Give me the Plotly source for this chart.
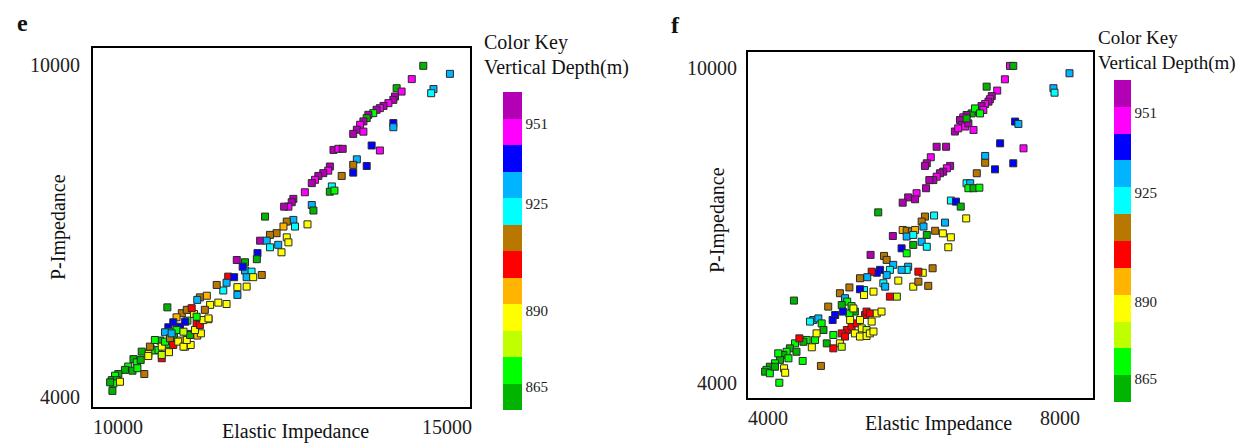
import plotly.graph_objects as go

W, H = 1254, 448
OX, OY = 8, 8          # page body margin of the browser
FW, FH = W - OX, H - OY

# ---------------- data ----------------
# Panel e
ei_e = [14640,15045,14465,14795,14760,14235,14310,14210,14185,14110,14035,13980,13930,13880,13805,13780,13730,13680,13630,13575,
        13730,14185,14185,13855,13980,13275,13350,13415,13630,13575,13780,13575,13400,13220,13195,13120,13045,12995,12945,12840,
        12665,12640,12590,12525,13250,13220,13290,12945,12970,12235,12880,12665,12690,12565,12515,12410,12310,12160,12260,12310,
        12435,12565,12590,12485,12120,12110,11805,11930,11930,12030,11955,11895,12185,12055,11955,11815,11675,11650,11600,11815,
        11765,11500,10750,11245,11350,11400,11525,11650,11205,11095,10970,10890,10840,10765,10790,10940,11055,11155,11245,11375,
        11055,11205,10640,10740,10850,10715,10940,11020,11105,11260,11195,10495,10560,10460,10775,10665,10485,10235,10285,10345,
        10155,10105,10220,10295,10005,9955,9905,9980,9930,10030,9880,9915,10400,10360,10460,10615,10665,10715,10790,10840,
        10915,10995,11045,11095,11170,11245,11295,11375,10940,11020,10890,10815,11045,11120,11195,11320,10995,10665,10560]
pi_e = [9985,9840,9745,9565,9490,9580,9520,9430,9370,9310,9260,9220,9190,9130,9100,9040,8980,8920,8830,8755,
        8795,8950,8875,8545,8455,8465,8485,8485,8295,8195,8175,8055,7995,8165,8090,8045,7995,7925,7865,7700,
        7580,7520,7440,7440,7805,7710,7730,7470,7370,7260,7120,7200,7080,7170,7080,6960,6930,6825,6825,6705,
        6750,6885,6795,6615,6600,6490,6475,6435,6285,6265,6165,6355,6205,6165,5995,5985,6175,6065,5925,5845,
        6165,6025,5620,5800,5830,5665,5705,5680,5755,5575,5515,5440,5350,5260,5180,5225,5380,5500,5380,5405,
        5140,5110,5020,4960,5080,5170,5020,4910,4940,5150,5320,4880,4840,4775,4810,4700,4910,4685,4625,4670,
        4550,4490,4475,4520,4415,4385,4305,4305,4245,4275,4265,4110,4415,4820,4740,4850,4910,5000,5060,4940,
        5000,4910,5030,5120,5210,5300,5390,5420,5270,5360,5210,5150,5575,5605,5450,5575,5180,4760,5030]
depth_e = [860,930,947,930,921,860,947,956,956,947,956,947,956,869,956,860,956,947,956,956,
           947,938,930,938,947,956,947,956,930,912,938,938,912,956,947,956,956,947,956,947,
           956,956,947,956,921,860,869,930,860,860,886,930,921,912,895,912,912,956,930,921,
           930,886,886,886,938,860,956,860,930,921,930,938,912,886,886,886,904,930,921,930,
           938,912,860,912,895,886,886,886,930,904,912,895,938,938,869,860,869,886,886,886,
           895,895,860,869,860,930,886,886,886,886,904,860,869,886,886,904,912,860,869,860,
           869,860,860,869,860,869,860,860,869,886,860,860,912,860,886,869,886,869,912,904,
           886,886,886,860,886,904,886,886,938,938,869,930,912,904,869,912,878,878,869]

# Panel f
ei_f = [7315,7360,8130,7910,7925,7245,6995,7140,7065,7040,7020,6975,6925,6950,6835,6790,6720,6675,6630,6655,
        6700,6745,6815,6560,6605,6835,6720,6905,7385,7430,7180,7500,6975,6975,7110,7360,6860,6720,6770,6745,
        6815,6895,6310,6440,6230,6175,6150,6495,6450,6400,6355,6310,6265,6210,6165,6035,5920,6015,5845,6505,
        6575,6640,5510,6715,6275,6425,6150,6105,5845,5900,5970,6015,5900,5990,6130,6105,6175,5990,6175,6290,
        6395,6505,6470,5830,5900,5710,5405,5590,5625,5715,5670,5625,5580,5605,5920,5900,5830,5535,5490,5420,
        5260,5360,5315,5260,5115,4985,5055,5085,5010,5145,5190,5115,5025,4920,4885,4825,4620,4575,4690,4735,
        4760,4645,4805,4895,4665,4985,5010,4895,5080,5145,5215,5330,5350,5395,5010,5055,5260,5285,5350,5420,
        5490,5555,5190,5260,5350,5395,5445,5125,5170,5445,5315,5765,5670,5785,5990,6060,6120,6060,6195,6255,
        4355,4530,4485,4370,4300,4255,4210,4280,4165,4095,4025,3980,3960,4025,4095,4140,4390,4220,4235,4600,
        4430,4475,4725,4155]
pi_f = [10040,10040,9900,9615,9530,9785,9645,9570,9465,9405,9360,9315,9275,9200,9170,9135,9105,9060,9010,8915,
        8885,8945,8820,8790,8850,9230,9040,9135,8980,8935,8565,8470,8325,8195,8070,8185,7995,7805,7805,7710,
        7710,7720,8500,8500,8300,8185,8135,8135,8090,8025,7995,7930,7865,7865,7710,7615,7535,7500,7435,7475,
        7455,7360,7250,7135,7190,7055,7170,7075,6915,6900,6885,6915,6790,6820,6980,6690,6595,6630,6820,6900,
        6850,6775,6585,6565,6470,6800,6440,6420,6345,6250,6155,6055,5900,5835,6215,6155,6155,6155,6100,6120,
        5995,6015,5770,5785,5820,5710,5615,5550,5485,5465,5360,5325,5360,5295,5200,5455,5200,5170,5230,5135,
        5010,4820,4755,4915,4945,4755,4690,4660,5010,5075,5135,5295,5360,5325,4945,4885,5200,5040,5010,5170,
        5325,5360,4945,4885,4895,4945,4980,5200,5420,5740,5675,5645,5645,5950,5835,5930,6100,6120,5850,6185,
        5570,4820,4785,4755,4660,4595,4535,4470,4440,4375,4310,4250,4215,4185,4310,4565,4595,4280,4195,4680,
        4850,4420,4325,4005]
depth_f = [947,860,930,930,921,947,860,947,956,947,956,947,956,947,956,860,956,947,956,956,
           947,956,947,956,947,869,860,869,938,930,938,947,930,912,938,938,912,921,930,869,
           860,869,956,956,947,956,956,956,947,956,956,947,956,956,956,947,956,956,956,921,
           938,860,860,886,921,930,912,912,895,912,912,895,930,921,930,930,921,860,860,912,
           886,886,886,938,869,956,956,912,912,930,921,930,921,930,930,921,930,938,938,904,
           912,930,921,938,912,912,930,869,860,869,860,869,938,938,938,912,930,921,930,869,
           860,869,860,869,886,886,878,904,904,904,904,904,904,904,904,904,886,886,878,886,
           886,886,886,886,886,886,886,886,886,886,886,878,904,886,886,912,886,904,912,912,
           860,869,860,869,860,869,860,869,860,869,860,869,860,869,860,869,860,886,886,886,
           904,869,912,869]

tick_depths = [865, 890, 925, 951]
seg_colors = ["#00b400", "#00ff00", "#c0ff00", "#ffff00", "#ffb400", "#ff0000",
              "#b87800", "#00ffff", "#00b4ff", "#0000ff", "#ff00ff", "#b400b4"]
cmin, cmax = 857.5, 961.5

# stepped colour scale
cs = []
n = len(seg_colors)
for i, c in enumerate(seg_colors):
    cs.append([i / n, c])
    cs.append([(i + 1) / n, c])

FONT = "Liberation Serif"

def px(x):
    return (x - OX) / FW

def py(y):
    return 1 - (y - OY) / FH

fig = go.Figure()

def add_panel(xs, ys, ds, xa, ya, cb_x, cb_top, cb_len, cb_th):
    fig.add_trace(go.Scatter(
        x=xs, y=ys, mode="markers", xaxis=xa, yaxis=ya,
        marker=dict(symbol="square", size=7, color=ds, colorscale=cs, cmin=cmin, cmax=cmax,
                    line=dict(color="#2a2a2a", width=1),
                    showscale=True,
                    colorbar=dict(x=px(cb_x), xanchor="left", y=py(cb_top), yanchor="top",
                                  lenmode="pixels", len=cb_len, thickness=cb_th,
                                  xpad=0, ypad=0, outlinewidth=0,
                                  tickvals=tick_depths, ticks="",
                                  tickfont=dict(family=FONT, size=15, color="#222"))),
        showlegend=False, hoverinfo="x+y"))

add_panel(ei_e, pi_e, depth_e, "x", "y", 503, 92, 318, 19)
add_panel(ei_f, pi_f, depth_f, "x2", "y2", 1114, 80, 322, 17)

axis_common = dict(showgrid=False, zeroline=False, showline=True, mirror=True,
                   linecolor="black", linewidth=2, ticks="outside", tickcolor="rgba(0,0,0,0)",
                   tickformat="d",
                   tickfont=dict(family=FONT, size=20, color="#222"))

fig.update_layout(
    width=FW, height=FH, margin=dict(l=0, r=0, t=0, b=0, autoexpand=False),
    paper_bgcolor="white", plot_bgcolor="white",
    xaxis=dict(domain=[px(93), px(470)], range=[9620, 15350], tickvals=[10000, 15000],
               ticklen=1, anchor="y", **axis_common),
    yaxis=dict(domain=[py(407), py(48)], range=[3819, 10307], tickvals=[4000, 10000],
               ticklen=7, anchor="x", **axis_common),
    xaxis2=dict(domain=[px(748), px(1093)], range=[3726, 8452], tickvals=[4000, 8000],
                ticklen=1, anchor="y2", **axis_common),
    yaxis2=dict(domain=[py(398), py(52)], range=[3714, 10305], tickvals=[4000, 10000],
                ticklen=5, anchor="x2", **axis_common),
)

ann = []
def text(x, y, s, size=20, angle=0, xanchor="center", bold=False):
    ann.append(dict(x=px(x), y=py(y), xref="paper", yref="paper", text=("<b>%s</b>" % s) if bold else s,
                    showarrow=False, textangle=angle, xanchor=xanchor, yanchor="middle",
                    font=dict(family=FONT, size=size, color="#111")))

text(22, 23, "e", size=24, bold=True)
text(675, 25, "f", size=24, bold=True)
text(295, 431, "Elastic Impedance")
text(938, 423, "Elastic Impedance")
text(58, 227, "P-Impedance", angle=-90)
text(717, 220, "P-Impedance", angle=-90)
text(482, 42, "Color Key", xanchor="left")
text(482, 68, "Vertical Depth(m)", xanchor="left")
text(1096, 38, "Color Key", size=19, xanchor="left")
text(1096, 63, "Vertical Depth(m)", size=19, xanchor="left")
fig.update_layout(annotations=ann)

fig.write_html("out.html")
